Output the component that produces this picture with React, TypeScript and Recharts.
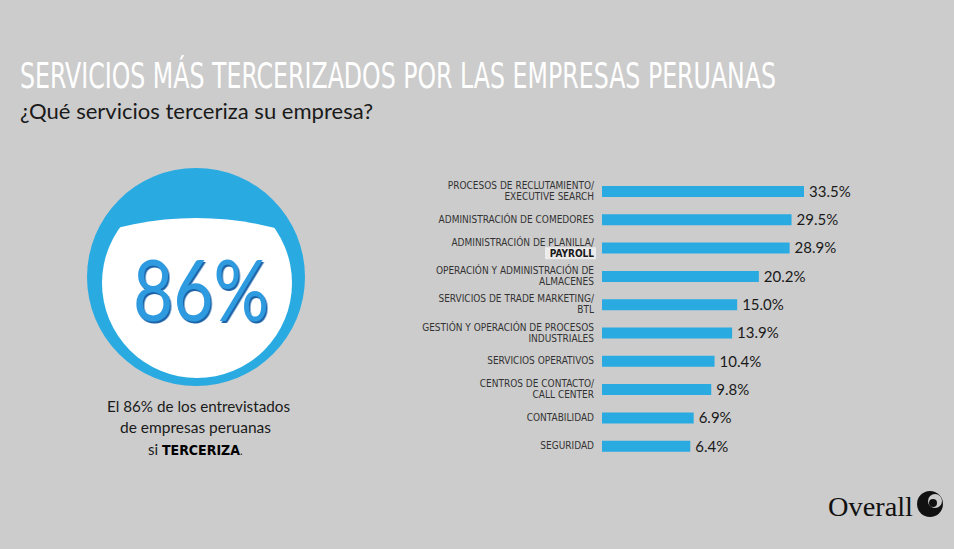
import React from 'react';
import { BarChart, Bar, XAxis, YAxis, LabelList } from 'recharts';

const services = [
  'PROCESOS DE RECLUTAMIENTO/\nEXECUTIVE SEARCH',
  'ADMINISTRACIÓN DE COMEDORES',
  'ADMINISTRACIÓN DE PLANILLA/\nPAYROLL',
  'OPERACIÓN Y ADMINISTRACIÓN DE\nALMACENES',
  'SERVICIOS DE TRADE MARKETING/\nBTL',
  'GESTIÓN Y OPERACIÓN DE PROCESOS\nINDUSTRIALES',
  'SERVICIOS OPERATIVOS',
  'CENTROS DE CONTACTO/\nCALL CENTER',
  'CONTABILIDAD',
  'SEGURIDAD',
];
const shares = [33.5, 29.5, 28.9, 20.2, 15.0, 13.9, 10.4, 9.8, 6.9, 6.4];
const highlightedWord = 'PAYROLL';
const overallShare = 86;

const data = services.map((name, i) => ({ name, value: shares[i] }));

const BG = '#cccccc';
const BLUE = '#29abe2';
const NARROW = '"Liberation Sans Narrow", "DejaVu Sans Condensed", sans-serif';

const ServiceTick = (props: any) => {
  const { x, y, payload } = props;
  const lines: string[] = String(payload.value).split('\n');
  const start = lines.length > 1 ? -5.5 : 0;
  return (
    <g>
      {lines.map((line, i) => {
        const ly = y + start + i * 11;
        const hl = line === highlightedWord;
        return (
          <g key={i}>
            {hl && <rect x={x - 49} y={ly - 6} width={51} height={12} fill="#ececec" />}
            <text
              x={x}
              y={ly}
              dy="0.35em"
              textAnchor="end"
              fontFamily={NARROW}
              fontSize={10}
              fontWeight={hl ? 700 : 400}
              fill={hl ? '#1a1a1a' : '#333333'}
            >
              {line}
            </text>
          </g>
        );
      })}
    </g>
  );
};

const Decor = () => {
  const cx = 196;
  const cy = 277;
  return (
    <svg width={954} height={549} style={{ position: 'absolute', left: 0, top: 0 }}>
      <rect width={954} height={549} fill={BG} />
      <text x={20} y={88} fontFamily={NARROW} fontSize={35} fill="#ffffff" textLength={756} lengthAdjust="spacingAndGlyphs">
        SERVICIOS MÁS TERCERIZADOS POR LAS EMPRESAS PERUANAS
      </text>
      <text x={20} y={119} fontFamily="Lato, sans-serif" fontSize={21} fill="#1a1a1a" textLength={353} lengthAdjust="spacingAndGlyphs">
        ¿Qué servicios terceriza su empresa?
      </text>

      <defs>
        <clipPath id="capClip">
          <circle cx={cx} cy={218 + 320} r={320} />
        </clipPath>
        <filter id="depth" x="-10%" y="-10%" width="120%" height="130%">
          <feDropShadow dx={1.5} dy={2} stdDeviation={0.4} floodColor="#1a64a8" floodOpacity={1} />
        </filter>
      </defs>
      <circle cx={cx} cy={cy} r={109} fill={BLUE} />
      <circle cx={cx + 1} cy={cy + 6} r={95} fill="#ffffff" clipPath="url(#capClip)" />
      <text x={133} y={321} fontFamily="Lato, sans-serif" fontSize={86} fill="#2f9be0" textLength={136} lengthAdjust="spacingAndGlyphs" filter="url(#depth)">
        {overallShare}%
      </text>

      <text x={107} y={412} fontFamily="Lato, sans-serif" fontSize={15} fill="#1a1a1a" textLength={183} lengthAdjust="spacingAndGlyphs">
        El {overallShare}% de los entrevistados
      </text>
      <text x={120} y={433} fontFamily="Lato, sans-serif" fontSize={15} fill="#1a1a1a" textLength={151} lengthAdjust="spacingAndGlyphs">
        de empresas peruanas
      </text>
      <text x={148} y={455} fontFamily="Lato, sans-serif" fontSize={15} fill="#1a1a1a">
        si{' '}
        <tspan fontFamily='"DejaVu Sans Condensed", sans-serif' fontWeight={700} fontSize={14} fill="#000000">
          TERCERIZA
        </tspan>
        <tspan fontSize={11}>.</tspan>
      </text>

      <text x={828} y={516} fontFamily='"Liberation Serif", serif' fontSize={27} fill="#111111" textLength={85} lengthAdjust="spacingAndGlyphs">
        Overall
      </text>
      <circle cx={930} cy={504} r={13} fill="#111111" />
      <circle cx={935} cy={501} r={7} fill={BG} />
      <circle cx={933} cy={503} r={4} fill="#111111" />
    </svg>
  );
};

const App: React.FC = () => {
  return (
    <div style={{ position: 'absolute', left: 0, top: 0, width: 954, height: 549, background: BG, overflow: 'hidden' }}>
      <Decor />
      <div style={{ position: 'absolute', left: 0, top: 0 }}>
        <BarChart
          width={954}
          height={549}
          data={data}
          layout="vertical"
          margin={{ top: 177, right: 150, bottom: 89, left: 0 }}
        >
          <XAxis type="number" hide scale="sqrt" domain={[0, 'dataMax']} />
          <YAxis
            type="category"
            dataKey="name"
            width={602}
            axisLine={false}
            tickLine={false}
            tickSize={0}
            tickMargin={8}
            interval={0}
            tick={<ServiceTick />}
          />
          <Bar dataKey="value" fill={BLUE} barSize={11} isAnimationActive={false}>
            <LabelList
              dataKey="value"
              position="right"
              offset={5}
              formatter={(v: any) => `${Number(v).toFixed(1)}%`}
              style={{ fontFamily: 'Lato, sans-serif', fontSize: 15, fill: '#1a1a1a' }}
            />
          </Bar>
        </BarChart>
      </div>
    </div>
  );
};

export default App;
